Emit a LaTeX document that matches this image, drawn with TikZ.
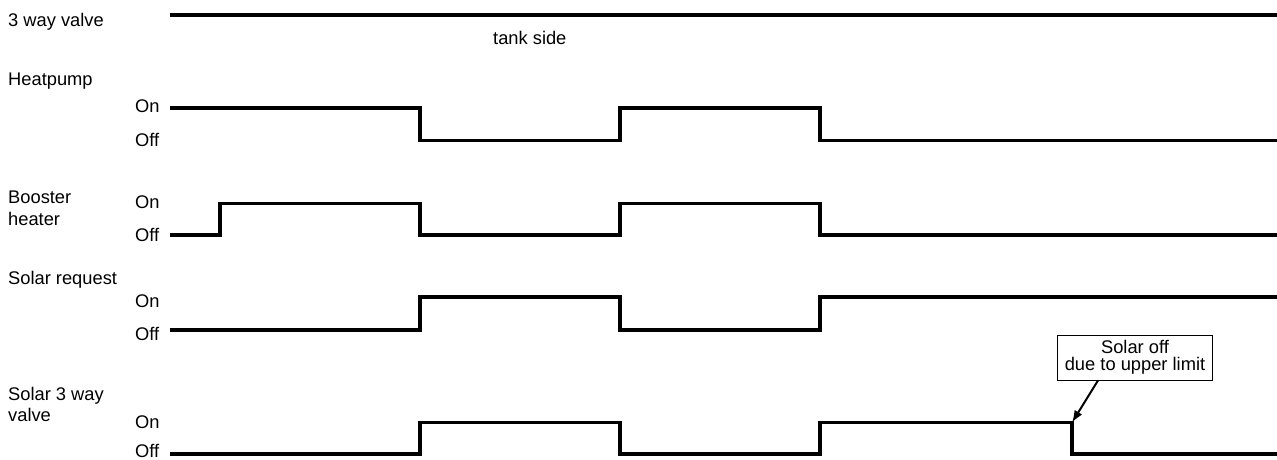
\documentclass[tikz,border=0pt]{standalone}
\usepackage{fontspec}
\setmainfont{Liberation Sans}
\usetikzlibrary{arrows.meta}

\begin{document}
\begin{tikzpicture}[x=1pt, y=-1pt, every node/.style={font=\fontsize{18.3}{21}\selectfont, inner sep=0pt},
	>={Latex[length=12pt,width=9pt]}, signal/.style={line width=3.4pt}, caption/.style={anchor=base west}]
	\useasboundingbox (0,0) rectangle (1277,459);
	% row titles
	\node[caption] (valve) at (8,26) {3 way valve};
	\node[caption] (tank) at (493,44.5) {tank side};
	\node[caption] (hp) at (8,85) {Heatpump};
	\node[caption] (boost1) at (8,203.5) {Booster};
	\node[caption] (boost2) at (8,225) {heater};
	\node[caption] (req) at (8,284) {Solar request};
	\node[caption] (sv1) at (8,400) {Solar 3 way};
	\node[caption] (sv2) at (8,421.5) {valve};
	% on/off levels
	\node[caption] (hpon) at (135,112.5) {On};
	\node[caption] (hpoff) at (135,146) {Off};
	\node[caption] (boon) at (135,208.5) {On};
	\node[caption] (booff) at (135,241.5) {Off};
	\node[caption] (reqon) at (135,307) {On};
	\node[caption] (reqoff) at (135,340) {Off};
	\node[caption] (svon) at (135,428) {On};
	\node[caption] (svoff) at (135,457) {Off};
	% signals
	\draw[signal] (170,15) -- (1277,15);
	\draw[signal] (170,108) -- (420,108) -- (420,140.5) -- (620,140.5) -- (620,108) -- (820,108) -- (820,140.5) -- (1277,140.5);
	\draw[signal] (170,235) -- (220,235) -- (220,203.5) -- (420,203.5) -- (420,235) -- (620,235) -- (620,203.5) -- (820,203.5) -- (820,235) -- (1277,235);
	\draw[signal] (170,330) -- (420,330) -- (420,297) -- (620,297) -- (620,330) -- (820,330) -- (820,297) -- (1277,297);
	\draw[signal] (170,454) -- (420,454) -- (420,422.5) -- (620,422.5) -- (620,454) -- (820,454) -- (820,422.5) -- (1072,422.5) -- (1072,454) -- (1277,454);
	% callout
	\node[draw, line width=0.9pt, minimum width=155pt, minimum height=45pt, align=center, font=\fontsize{18.3}{16.5}\selectfont] (limit) at (1135,357.5) {Solar off\\due to upper limit};
	\coordinate (drop) at (1072,422.5);
	\draw[->, line width=2pt] ([xshift=-37pt]limit.south) -- (drop);
\end{tikzpicture}
\end{document}
